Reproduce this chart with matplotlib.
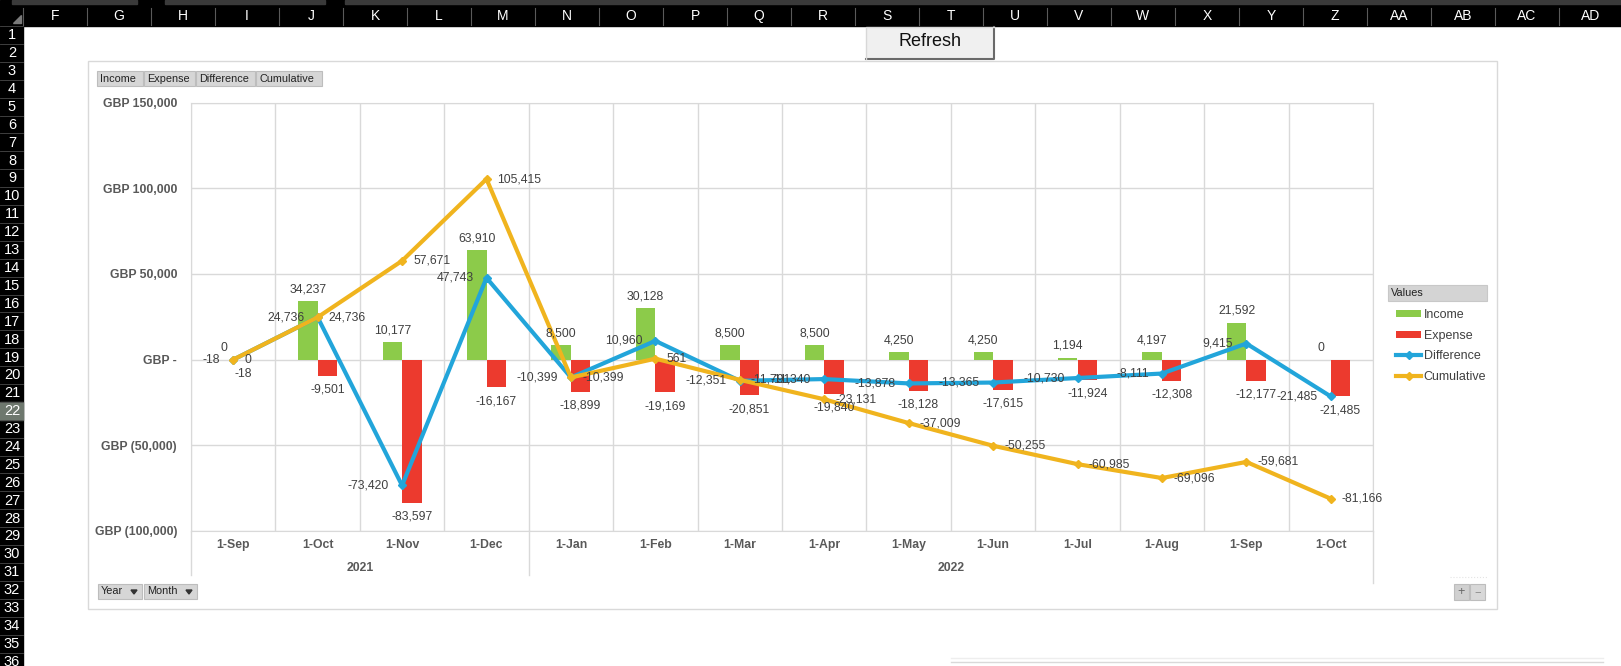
import numpy as np
import matplotlib
matplotlib.use('Agg')
import matplotlib.pyplot as plt
from matplotlib.patches import Rectangle

plt.rcParams['font.family'] = ['Liberation Sans', 'DejaVu Sans']

# pivot chart data
months = ['1-Sep', '1-Oct', '1-Nov', '1-Dec', '1-Jan', '1-Feb', '1-Mar',
          '1-Apr', '1-May', '1-Jun', '1-Jul', '1-Aug', '1-Sep', '1-Oct']
years = ['2021', '2022']
year_counts = [4, 10]
income = [0, 34237, 10177, 63910, 8500, 30128, 8500, 8500, 4250, 4250, 1194, 4197, 21592, 0]
expense = [-18, -9501, -83597, -16167, -18899, -19169, -20851, -19840, -18128, -17615,
           -11924, -12308, -12177, -21485]
difference = [-18, 24736, -73420, 47743, -10399, 10960, -12351, -11340, -13878, -13365,
              -10730, -8111, 9415, -21485]
cumulative = [0, 24736, 57671, 105415, -10399, 561, -11791, -23131, -37009, -50255,
              -60985, -69096, -59681, -81166]
yticks = [150000, 100000, 50000, 0, -50000, -100000]
ytick_labels = ['GBP 150,000', 'GBP 100,000', 'GBP 50,000', 'GBP -', 'GBP (50,000)', 'GBP (100,000)']

# spreadsheet headers
col_letters = ['F', 'G', 'H', 'I', 'J', 'K', 'L', 'M', 'N', 'O', 'P', 'Q', 'R', 'S', 'T',
               'U', 'V', 'W', 'X', 'Y', 'Z', 'AA', 'AB', 'AC', 'AD']
row_numbers = list(range(1, 37))

GREEN = '#8CCB4A'
RED = '#EC3A2E'
BLUE = '#22A5DA'
GOLD = '#F0B41E'
TXT = '#404040'
GRID = '#D9D9D9'

W, H = 1621, 666
fig = plt.figure(figsize=(W / 100, H / 100), dpi=100)

# background in pixel coords
bg = fig.add_axes([0, 0, 1, 1])
bg.set_xlim(0, W)
bg.set_ylim(H, 0)
bg.axis('off')

# column header strip
bg.add_patch(Rectangle((0, 0), W, 26, color='black', zorder=1))
bg.add_patch(Rectangle((12, 0), 125, 4, color='#3a3a3a', zorder=2))
bg.add_patch(Rectangle((165, 0), 160, 4, color='#3a3a3a', zorder=2))
bg.add_patch(Rectangle((345, 0), W, 4, color='#3a3a3a', zorder=2))
bg.add_patch(plt.Polygon([[21, 15], [21, 23], [13, 23]], color='#7a7a7a', zorder=2))
for k, letter in enumerate(col_letters):
    cx = 55 + 64 * k
    bg.text(cx, 16, letter, color='white', fontsize=10, ha='center', va='center', zorder=3)
    bg.plot([cx + 32, cx + 32], [8, 25], color='#5a5a5a', lw=0.8, zorder=2)
bg.plot([23, 23], [8, 25], color='#5a5a5a', lw=0.8, zorder=2)

# row header column
bg.add_patch(Rectangle((0, 26), 23, H - 26, color='black', zorder=1))
for n in row_numbers:
    top = 26 + (n - 1) * 17.9
    if n == 22:
        bg.add_patch(Rectangle((0, top), 23, 17.9, color='#6E786E', zorder=2))
    bg.plot([0, 23], [top, top], color='#4a4a4a', lw=0.6, zorder=2)
    bg.text(12, top + 9.3, str(n), color='white', fontsize=10.5, ha='center', va='center', zorder=3)

# Refresh button
bg.add_patch(Rectangle((866, 27), 128, 32, facecolor='#F0F0F0', edgecolor='none', zorder=2))
bg.plot([866, 994, 994], [59, 59, 27], color='#6a6a6a', lw=1.5, zorder=3)
bg.plot([866, 866, 994], [59, 27, 27], color='#d8d8d8', lw=1, zorder=3)
bg.text(930, 42, 'Refresh', fontsize=13, color='#111111', ha='center', va='center', zorder=4)

# chart area
bg.add_patch(Rectangle((88, 61), 1409, 548, facecolor='white', edgecolor=GRID, lw=1, zorder=2))

def button(x0, x1, y0, y1, label, arrow=False):
    bg.add_patch(Rectangle((x0, y0), x1 - x0, y1 - y0, facecolor='#D6D6D6',
                           edgecolor='#BDBDBD', lw=0.8, zorder=3))
    bg.text(x0 + 3, (y0 + y1) / 2, label, fontsize=7.8, color='#222222',
            ha='left', va='center', zorder=4)
    if arrow:
        ax_ = x1 - 8
        bg.add_patch(plt.Polygon([[ax_ - 3, 590], [ax_ + 3, 590], [ax_, 594]],
                                 color='#333333', zorder=4))

button(97, 143, 71, 86, 'Income')
button(144, 195, 71, 86, 'Expense')
button(196, 255, 71, 86, 'Difference')
button(256, 322, 71, 86, 'Cumulative')
button(98, 142, 584, 599, 'Year', arrow=True)
button(144, 197, 584, 599, 'Month', arrow=True)
bg.add_patch(Rectangle((1454, 584), 15, 16, facecolor='#D0D0D0', edgecolor='#BDBDBD', lw=0.8, zorder=3))
bg.add_patch(Rectangle((1470, 584), 15, 16, facecolor='#D8D8D8', edgecolor='#BDBDBD', lw=0.8, zorder=3))
bg.text(1461.5, 592, '+', fontsize=9, color='#666666', ha='center', va='center', zorder=4)
bg.text(1477.5, 592, '\u2212', fontsize=8, color='#888888', ha='center', va='center', zorder=4)
bg.plot([1450, 1487], [577, 577], color='#e4e4e4', lw=0.8, ls=':', zorder=3)

# plot area borders extending into the category axis
for xl, yb in [(191, 575), (528.7, 575), (1373, 583)]:
    bg.plot([xl, xl], [531, yb], color=GRID, lw=1, zorder=3)

# legend header
bg.add_patch(Rectangle((1388, 285), 99, 16, facecolor='#D4D4D4', edgecolor='#C8C8C8', lw=0.8, zorder=3))
bg.text(1391, 293, 'Values', fontsize=7.8, color='#222222', ha='left', va='center', zorder=4)

# another object below the sheet
bg.plot([951, 1603], [658, 658], color='#eeeeee', lw=1, zorder=2)
bg.plot([951, 1603], [662, 662], color=GRID, lw=1, zorder=2)

# main plot
ax = fig.add_axes([191 / W, 1 - 531 / H, 1182 / W, 428.4 / H])
ax.set_zorder(5)
ax.patch.set_alpha(0)
x = np.arange(len(months))
w = 0.231

b1 = ax.bar(x - w / 2, income, w, color=GREEN, zorder=2, label='Income')
b2 = ax.bar(x + w / 2, expense, w, color=RED, zorder=2, label='Expense')
l1, = ax.plot(x, difference, color=BLUE, lw=3.0, marker='D', ms=4.5, zorder=3,
              solid_joinstyle='round', label='Difference')
l2, = ax.plot(x, cumulative, color=GOLD, lw=3.0, marker='D', ms=4.5, zorder=4,
              solid_joinstyle='round', label='Cumulative')

lab = dict(fontsize=8.8, color=TXT, textcoords='offset points', zorder=6)
for i in range(len(months)):
    ax.annotate(f'{income[i]:,}', (x[i] - w / 2, income[i]), xytext=(0, 8.6),
                ha='center', va='center', **lab)
    ax.annotate(f'{expense[i]:,}', (x[i] + w / 2, expense[i]), xytext=(0, -10),
                ha='center', va='center', **lab)
    ax.annotate(f'{difference[i]:,}', (x[i], difference[i]), xytext=(-9.4, 0),
                ha='right', va='center', **lab)
    ax.annotate(f'{cumulative[i]:,}', (x[i], cumulative[i]), xytext=(8, 0),
                ha='left', va='center', **lab)

ax.set_xlim(-0.5, len(months) - 0.5)
ax.set_ylim(-100000, 150000)
ax.set_yticks(yticks)
ax.set_yticklabels(ytick_labels, fontweight='bold', fontsize=8.8, color='#595959')
ax.set_xticks(x)
ax.set_xticklabels(months, fontweight='bold', fontsize=8.8, color='#595959')
ax.set_xticks(np.arange(len(months) + 1) - 0.5, minor=True)
ax.tick_params(axis='both', which='both', length=0)
ax.tick_params(axis='x', pad=6)
ax.tick_params(axis='y', pad=10)
ax.grid(axis='y', color=GRID, lw=1, zorder=0)
ax.grid(axis='x', which='minor', color=GRID, lw=1, zorder=0)
for s in ax.spines.values():
    s.set_color(GRID)

# year labels under the months
start = 0
for yr, n in zip(years, year_counts):
    ax.annotate(yr, xy=(start + (n - 1) / 2, 0), xycoords=('data', 'axes fraction'),
                xytext=(0, -26.6), textcoords='offset points', ha='center', va='center',
                fontsize=8.8, fontweight='bold', color='#595959')
    start += n

fig.legend(handles=[b1, b2, l1, l2], loc='upper left',
           bbox_to_anchor=(1390 / W, 1 - 303 / H), frameon=False, fontsize=9,
           handlelength=2.0, handleheight=0.5, handletextpad=0.2, labelspacing=0.68,
           borderpad=0, labelcolor=TXT, markerscale=0.8)

fig.savefig('out.png', dpi=100)
